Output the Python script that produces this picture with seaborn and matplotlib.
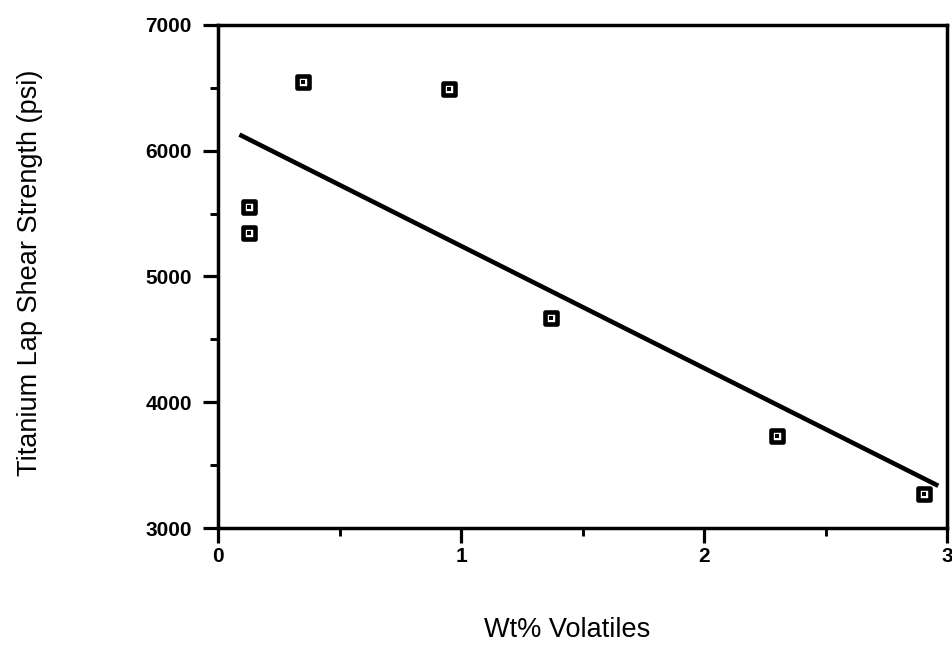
import numpy as np
import pandas as pd
import matplotlib
matplotlib.use("Agg")
import matplotlib.pyplot as plt
import seaborn as sns
from matplotlib.ticker import MultipleLocator

# Measured lap shear strength versus volatile content
wt_volatiles = [0.128, 0.128, 0.348, 0.951, 1.370, 2.300, 2.907]
shear_psi = [5550, 5343, 6544, 6489, 4670, 3732, 3273]

# Span over which the least-squares line is drawn
fit_span = [0.088, 2.964]

sns.set_style("ticks")
plt.rcParams["font.family"] = ["Liberation Sans", "DejaVu Sans"]
plt.rcParams.update({
    "text.color": "black",
    "axes.labelcolor": "black",
    "xtick.color": "black",
    "ytick.color": "black",
})

df = pd.DataFrame({"x": wt_volatiles, "y": shear_psi})
slope, intercept = np.polyfit(df["x"], df["y"], 1)
fit = pd.DataFrame({"x": fit_span})
fit["y"] = intercept + slope * fit["x"]

fig = plt.figure(figsize=(9.53, 6.47), dpi=100)
ax = fig.add_axes([0.2288, 0.1839, 0.9937 - 0.2288, 0.9614 - 0.1839])

sns.lineplot(data=fit, x="x", y="y", ax=ax, color="black", linewidth=3.3,
             solid_capstyle="butt")
sns.scatterplot(data=df, x="x", y="y", ax=ax, marker="s", s=78,
                facecolor="white", edgecolor="black", linewidth=3.3, zorder=3)
sns.scatterplot(data=df, x="x", y="y", ax=ax, marker="s", s=5,
                color="black", linewidth=0, zorder=4)

ax.set_xlim(0, 3)
ax.set_ylim(3000, 7000)
ax.xaxis.set_major_locator(MultipleLocator(1))
ax.xaxis.set_minor_locator(MultipleLocator(0.5))
ax.yaxis.set_major_locator(MultipleLocator(1000))
ax.yaxis.set_minor_locator(MultipleLocator(500))

for side in ["left", "right", "top", "bottom"]:
    ax.spines[side].set_visible(True)
    ax.spines[side].set_linewidth(2.5)
    ax.spines[side].set_color("black")

ax.tick_params(axis="both", which="major", direction="out", length=11,
               width=2.3, labelsize=15)
ax.tick_params(axis="both", which="minor", direction="out", length=5.5,
               width=2.1)
ax.tick_params(axis="x", which="major", pad=3)
ax.tick_params(axis="y", which="major", pad=8)
ax.tick_params(top=False, right=False, which="both")
for lbl in ax.get_xticklabels() + ax.get_yticklabels():
    lbl.set_fontweight("bold")

ax.set_xlabel("Wt% Volatiles", fontsize=19.5)
ax.set_ylabel("Titanium Lap Shear Strength (psi)", fontsize=19.5)
ax.xaxis.set_label_coords(0.595, 0.0155, transform=fig.transFigure)
ax.xaxis.label.set_va("baseline")
ax.yaxis.set_label_coords(0.0315, 0.579, transform=fig.transFigure)
ax.yaxis.label.set_va("center")

fig.savefig("out.png", dpi=100, facecolor="white")
